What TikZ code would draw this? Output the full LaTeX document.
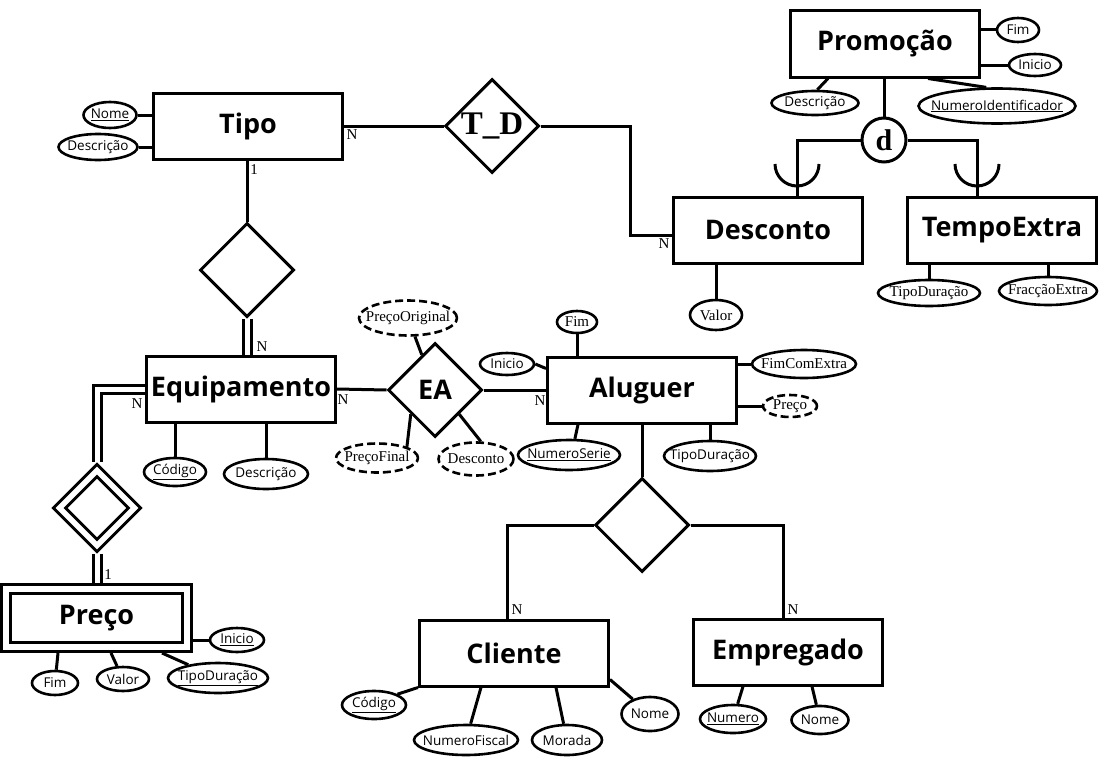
\documentclass[tikz,border=0pt]{standalone}
\usepackage{fontspec}
\usepackage{tikz}
\usetikzlibrary{shapes.geometric}
\setmainfont{Liberation Serif}
\setsansfont{Open Sans}

\begin{document}
\begin{tikzpicture}[x=1pt,y=-1pt,line width=3pt,
entity/.style={draw, minimum width=189pt, minimum height=66pt, inner sep=0pt, font=\sffamily\bfseries\fontsize{27pt}{30pt}\selectfont},
weakentity/.style={entity, double, double distance=6pt, minimum width=181pt, minimum height=58pt, outer sep=6pt},
relation/.style={draw, diamond, aspect=1, minimum width=94pt, minimum height=94pt, inner sep=0pt, font=\sffamily\bfseries\fontsize{27pt}{30pt}\selectfont},
weakrel/.style={relation, double, double distance=5.5pt, minimum width=80pt, minimum height=80pt, outer sep=6pt},
disjoint/.style={draw, circle, minimum size=44pt, inner sep=0pt, font=\rmfamily\bfseries\fontsize{30pt}{30pt}\selectfont},
attr/.style={draw, ellipse, line width=2.6pt, inner sep=-12pt, font=\sffamily\fontsize{13.5pt}{15pt}\selectfont},
sattr/.style={attr, font=\rmfamily\fontsize{15pt}{17pt}\selectfont},
derived/.style={sattr, dash pattern=on 8pt off 4pt},
card/.style={inner sep=0pt, font=\rmfamily\fontsize{15pt}{17pt}\selectfont},
dbl/.style={double, double distance=5pt}
]
\useasboundingbox (0,0) rectangle (1118,760);

\node[entity](tipo) at (248,126) {Tipo};
\node[entity](promo) at (885,44) {Promoção};
\node[entity](desc) at (768,230) {Desconto};
\node[entity](tempo) at (1002,230) {TempoExtra};
\node[entity](equip) at (241,389) {Equipamento};
\node[entity](alug) at (642,390) {Aluguer};
\node[entity](cli) at (514,653) {Cliente};
\node[entity](emp) at (788,652) {Empregado};
\node[weakentity](preco) at (96.5,618) {Preço};

\node[relation, font=\rmfamily\bfseries\fontsize{33pt}{33pt}\selectfont](td) at (492,126) {T\_D};
\node[relation](rtipo) at (247,270) {};
\node[relation](ea) at (435,390) {EA};
\node[relation](rcli) at (642,525) {};
\node[weakrel](rpreco) at (97,508) {};
\node[disjoint](disj) at (884,140) {d};

\node[attr, minimum width=53pt, minimum height=26pt](tNome) at (110,115) {\underline{Nome}};
\node[attr, minimum width=79pt, minimum height=26pt](tDesc) at (98,147) {Descrição};

\node[attr, minimum width=42pt, minimum height=24pt](prFim) at (1018,30) {Fim};
\node[attr, minimum width=52pt, minimum height=22pt](prIni) at (1035,65) {Inicio};
\node[attr, minimum width=87pt, minimum height=24pt](prDesc) at (815,103) {Descrição};
\node[attr, minimum width=157pt, minimum height=35pt](prNI) at (997,106) {\underline{NumeroIdentificador}};

\node[sattr, minimum width=52pt, minimum height=30pt](dVal) at (716,315) {Valor};
\node[sattr, minimum width=102pt, minimum height=26pt](teTD) at (929,293) {TipoDuração};
\node[sattr, minimum width=98pt, minimum height=28pt](teFE) at (1048,291) {FracçãoExtra};

\node[attr, minimum width=62pt, minimum height=28pt](eCod) at (175,472) {\underline{Código}};
\node[attr, minimum width=84pt, minimum height=30pt](eDesc) at (266,474) {Descrição};

\node[derived, minimum width=98pt, minimum height=35pt](eaPO) at (408,318) {PreçoOriginal};
\node[derived, minimum width=82pt, minimum height=29pt](eaPF) at (377,458) {PreçoFinal};
\node[derived, minimum width=75pt, minimum height=33pt](eaDesc) at (476,459) {Desconto};

\node[sattr, minimum width=40pt, minimum height=22pt](aFim) at (577,322) {Fim};
\node[attr, minimum width=54pt, minimum height=22pt](aIni) at (507,364) {Inicio};
\node[sattr, minimum width=104pt, minimum height=28pt](aFCE) at (804,364) {FimComExtra};
\node[derived, minimum width=54pt, minimum height=22pt](aPreco) at (790,406) {Preço};
\node[attr, minimum width=102pt, minimum height=30pt](aNS) at (569,455) {\underline{NumeroSerie}};
\node[attr, minimum width=92pt, minimum height=30pt](aTD) at (710,456) {TipoDuração};

\node[attr, minimum width=54pt, minimum height=24pt](pIni) at (237,640) {\underline{Inicio}};
\node[attr, minimum width=46pt, minimum height=24pt](pFim) at (55,683) {Fim};
\node[attr, minimum width=52pt, minimum height=24pt](pVal) at (123,679) {Valor};
\node[attr, minimum width=100pt, minimum height=30pt](pTipo) at (218,678) {\underline{TipoDuração}};

\node[attr, minimum width=64pt, minimum height=28pt](cCod) at (374,705) {\underline{Código}};
\node[attr, minimum width=104pt, minimum height=30pt](cNF) at (466,740) {NumeroFiscal};
\node[attr, minimum width=70pt, minimum height=30pt](cMor) at (567,740) {Morada};
\node[attr, minimum width=57pt, minimum height=34pt](cNome) at (650,714) {Nome};
\node[attr, minimum width=66pt, minimum height=28pt](mNum) at (733,719) {\underline{Numero}};
\node[attr, minimum width=57pt, minimum height=28pt](mNome) at (820,720) {Nome};

\node[card](nTipoTD) at (352,135) {N};
\node[card](nDescTD) at (664,244) {N};
\node[card](nTipoR) at (254,170) {1};
\node[card](nEquipR) at (262,347) {N};
\node[card](nEquipP) at (137,404) {N};
\node[card](nPrecoP) at (108,575) {1};
\node[card](nEquipEA) at (343,400) {N};
\node[card](nAlugEA) at (540,401) {N};
\node[card](nCli) at (517,610) {N};
\node[card](nEmp) at (793,610) {N};

\draw (tipo.east) to (td.west);
\draw (td.east) -| ([xshift=-42pt,yshift=-5pt]desc.west) to ([yshift=-5pt]desc.west);
\draw (rtipo.north |- tipo.south) to (rtipo.north);
\draw[dbl] (rtipo.south) to (rtipo.south |- equip.north);
\draw[dbl] (equip.west) -| (rpreco.north);
\draw[dbl] (rpreco.south) to (rpreco.south |- preco.north);
\draw (equip.east) to (ea.west);
\draw (ea.east) to (alug.west);
\draw (alug.south) to (rcli.north);
\draw (rcli.west) -| ([xshift=-7pt]cli.north);
\draw (rcli.east) -| ([xshift=-5pt]emp.north);

\draw (promo.south -| disj.north) to (disj.north);
\draw (disj.west) -| ([xshift=29pt]desc.north);
\draw (disj.east) -| ([xshift=-25pt]tempo.north);
\draw (775,164) arc[start angle=180, end angle=0, radius=22];
\draw (955,164) arc[start angle=180, end angle=0, radius=22];

\draw (tNome) to (tNome -| tipo.west);
\draw (tDesc) to (tDesc -| tipo.west);
\draw (prFim) to (prFim -| promo.east);
\draw (prIni) to (prIni -| promo.east);
\draw (prDesc.80) to ([xshift=39pt]promo.south west);
\draw (prNI.120) to ([xshift=139pt]promo.south west);
\draw (dVal) to (dVal |- desc.south);
\draw (teTD) to (teTD |- tempo.south);
\draw (teFE) to (teFE |- tempo.south);

\draw (eCod) to (eCod |- equip.south);
\draw (eDesc) to (eDesc |- equip.south);
\draw (eaPO) to (ea);
\draw (eaPF.north east) to (ea.south west);
\draw (eaDesc.75) to (ea.south east);

\draw (aFim) to (aFim |- alug.north);
\draw (aIni.east) to ([yshift=-13pt]alug.north west);
\draw (aFCE) to (aFCE -| alug.east);
\draw (aPreco) to (aPreco -| alug.east);
\draw (aNS.70) to ([xshift=32pt]alug.south west);
\draw (aTD) to (aTD |- alug.south);

\draw (pIni) to (pIni -| preco.east);
\draw (pFim) to ([xshift=58pt]preco.south west);
\draw (pVal) to ([xshift=111pt]preco.south west);
\draw (pTipo) to ([xshift=162pt]preco.south west);

\draw (cCod.north east) to (cli.south west);
\draw (cNF) to ([xshift=63pt]cli.south west);
\draw (cMor) to ([xshift=138pt]cli.south west);
\draw (cNome) to ([yshift=8pt]cli.south east);
\draw (mNum) to ([xshift=51pt]emp.south west);
\draw (mNome) to ([xshift=120pt]emp.south west);

\end{tikzpicture}
\end{document}
